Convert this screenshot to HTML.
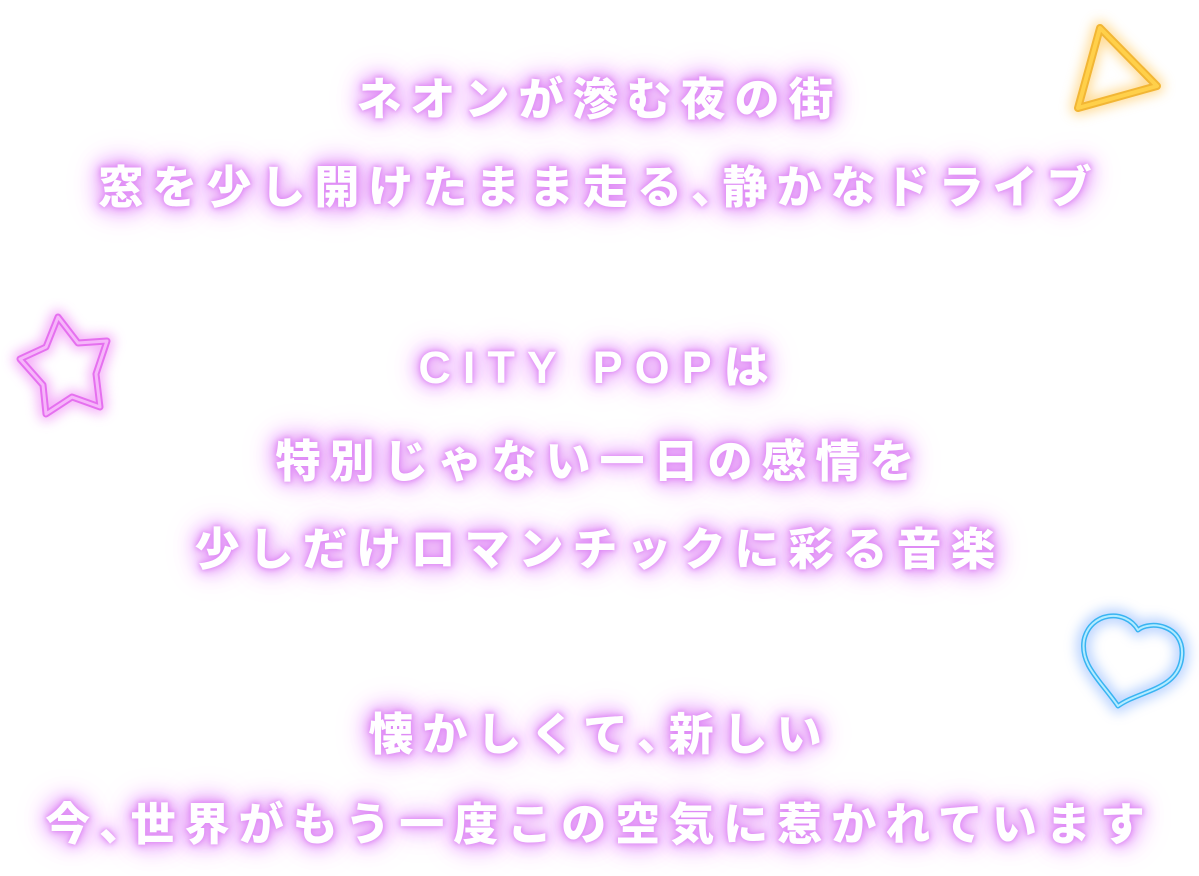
<!DOCTYPE html>
<html><head><meta charset="utf-8"><style>
html,body{margin:0;padding:0;background:#fff;width:1199px;height:876px;overflow:hidden;position:relative}
.t{position:absolute;left:0;width:1199px;text-align:center;font-family:"Liberation Sans","Noto Sans CJK JP",sans-serif;font-weight:900;font-size:45px;letter-spacing:9px;color:#fff;line-height:50px;white-space:nowrap;
text-shadow:0 0 4px #dd88f5,0 0 8px #e294f7,0 0 14px #e59cf7,0 0 20px #e8a4f8,0 0 28px #eeb2fa,0 0 38px #f0bcfb}
.p{font-feature-settings:"palt";}
svg{position:absolute;left:0;top:0}
</style></head><body>
<svg width="1199" height="876">
<defs>
<filter id="g" x="-50%" y="-50%" width="200%" height="200%"><feGaussianBlur stdDeviation="6"/></filter>
</defs>
<g fill="none" stroke-linejoin="round">
<polygon points="1100,28 1157,86 1078,108" stroke="#ffd27a" stroke-width="14" filter="url(#g)" opacity="0.8"/>
<polygon points="1100,28 1157,86 1078,108" stroke="#f2b634" stroke-width="8"/>
<polygon points="1100,28 1157,86 1078,108" stroke="#ffd04a" stroke-width="4"/>
<path d="M58,317 L78,343 L107,341 L96,374 L100,407 L72,397 L46,414 L43,385 L20,359 L46,347 Z" stroke="#f29cf7" stroke-width="14" filter="url(#g)" opacity="0.8"/>
<path d="M58,317 L78,343 L107,341 L96,374 L100,407 L72,397 L46,414 L43,385 L20,359 L46,347 Z" stroke="#e570ef" stroke-width="7"/>
<path d="M58,317 L78,343 L107,341 L96,374 L100,407 L72,397 L46,414 L43,385 L20,359 L46,347 Z" stroke="#f6b6fa" stroke-width="3"/>
<path d="M1138,630 C1125,608 1090,612 1084,640 C1080,665 1100,680 1118,706 C1140,690 1180,690 1182,655 C1184,625 1150,620 1138,630 Z" stroke="#a8c8ff" stroke-width="14" filter="url(#g)" opacity="0.8"/>
<path d="M1138,630 C1125,608 1090,612 1084,640 C1080,665 1100,680 1118,706 C1140,690 1180,690 1182,655 C1184,625 1150,620 1138,630 Z" stroke="#39b4f2" stroke-width="5"/>
<path d="M1138,630 C1125,608 1090,612 1084,640 C1080,665 1100,680 1118,706 C1140,690 1180,690 1182,655 C1184,625 1150,620 1138,630 Z" stroke="#b4ecff" stroke-width="2"/>
</g>
</svg>
<div class="t" style="top:75px">ネオンが滲む夜の街</div>
<div class="t" style="top:163px">窓を少し開けたまま走る<span class="p">、</span>静かなドライブ</div>
<div class="t" style="top:343px;letter-spacing:12px">CITY POPは</div>
<div class="t" style="top:437px">特別じゃない一日の感情を</div>
<div class="t" style="top:525px">少しだけロマンチックに彩る音楽</div>
<div class="t" style="top:710px">懐かしくて<span class="p">、</span>新しい</div>
<div class="t" style="top:800px">今<span class="p">、</span>世界がもう一度この空気に惹かれています</div>
</body></html>
